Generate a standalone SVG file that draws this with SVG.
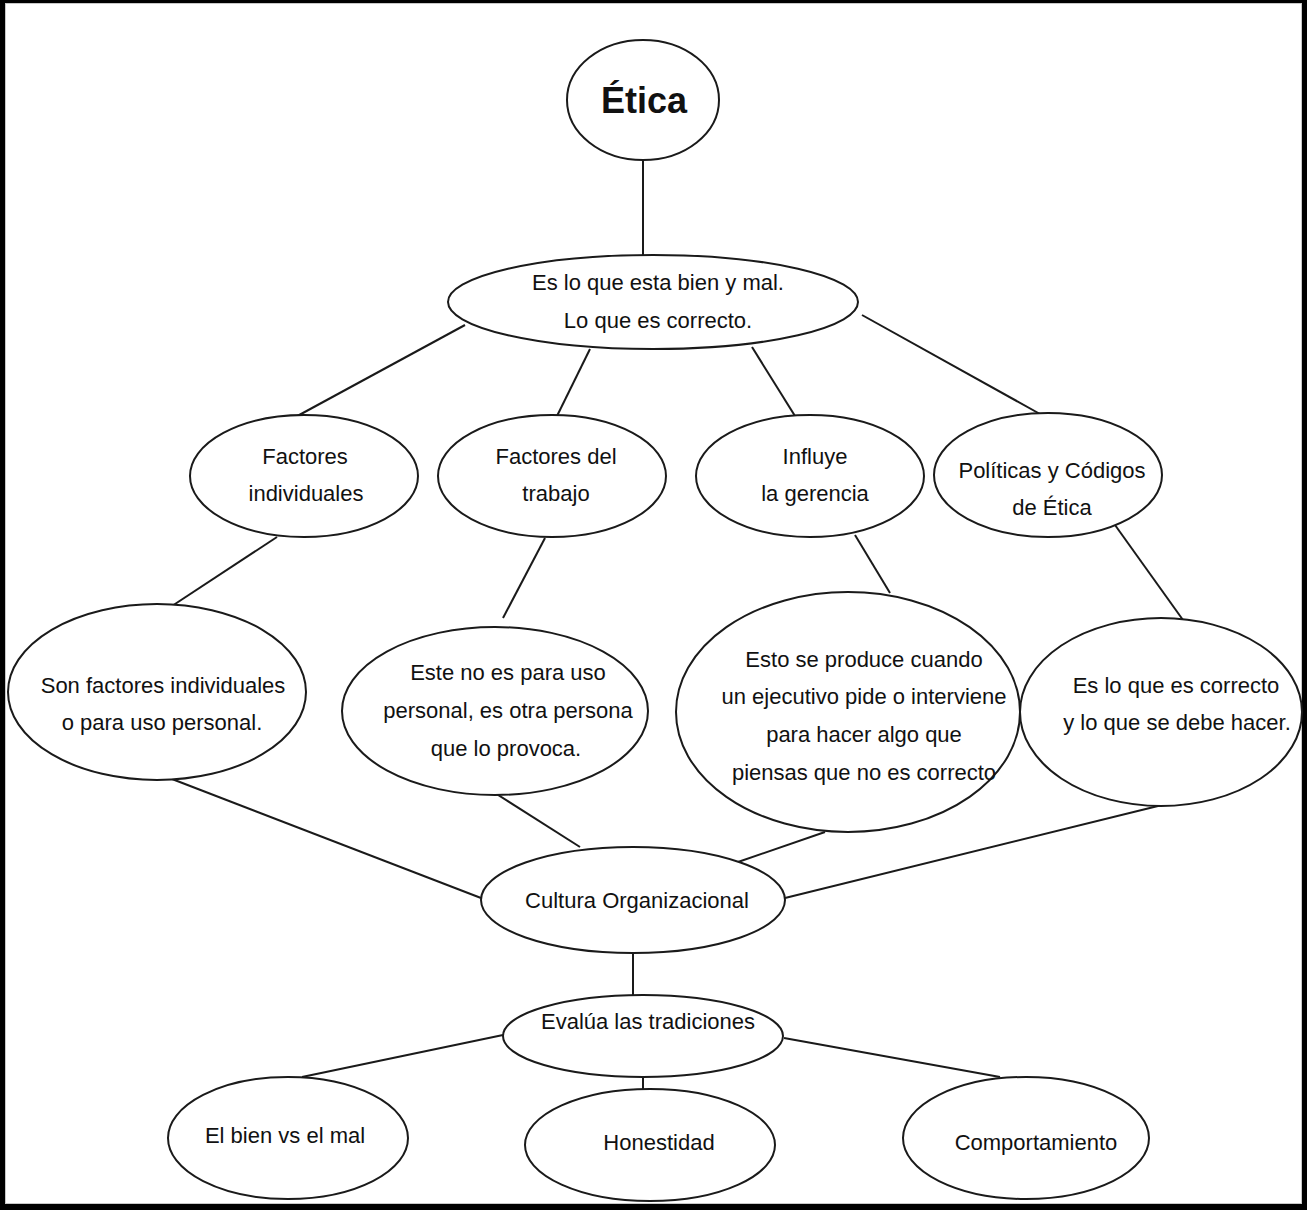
<svg xmlns="http://www.w3.org/2000/svg" width="1307" height="1210" viewBox="0 0 1307 1210">
<style>
.n ellipse{fill:#fff;stroke:#1a1a1a;stroke-width:2}
.n text{font-family:"Liberation Sans",Arial,sans-serif;font-size:22px;fill:#111;text-anchor:middle}
#edges line{stroke:#1a1a1a;stroke-width:2}
</style>
<rect x="0" y="0" width="1307" height="1210" fill="#000"/>
<rect x="5" y="3" width="1297" height="1201" fill="#fff"/>
<rect x="5.5" y="3.5" width="1296" height="1200" fill="none" stroke="#c8c8c8" stroke-width="1"/>
<g id="edges">
<line x1="643" y1="160" x2="643" y2="256"/>
<line x1="465" y1="325" x2="290" y2="420"/>
<line x1="590" y1="349" x2="557" y2="416"/>
<line x1="752" y1="347" x2="795" y2="416"/>
<line x1="862" y1="315" x2="1040" y2="414"/>
<line x1="277" y1="537" x2="172" y2="606"/>
<line x1="545" y1="538" x2="503" y2="618"/>
<line x1="855" y1="535" x2="890" y2="593"/>
<line x1="1115" y1="525" x2="1183" y2="620"/>
<line x1="172" y1="779" x2="481" y2="898"/>
<line x1="495" y1="793" x2="580" y2="847"/>
<line x1="825" y1="832" x2="738" y2="862"/>
<line x1="1162" y1="805" x2="785" y2="898"/>
<line x1="633" y1="953" x2="633" y2="996"/>
<line x1="503" y1="1035" x2="302" y2="1077"/>
<line x1="643" y1="1077" x2="643" y2="1090"/>
<line x1="784" y1="1038" x2="1000" y2="1077"/>
</g>
<g id="n-etica" class="n"><ellipse cx="643" cy="100" rx="76" ry="60"/><text x="644" y="113" style="font-size:36px;font-weight:bold">Ética</text></g>
<g id="n-bienmal" class="n"><ellipse cx="653" cy="302" rx="205" ry="47"/><text x="658" y="290">Es lo que esta bien y mal.</text><text x="658" y="328">Lo que es correcto.</text></g>
<g id="n-factind" class="n"><ellipse cx="304" cy="476" rx="114" ry="61"/><text x="305" y="464">Factores</text><text x="306" y="501">individuales</text></g>
<g id="n-facttrab" class="n"><ellipse cx="552" cy="476" rx="114" ry="61"/><text x="556" y="464">Factores del</text><text x="556" y="501">trabajo</text></g>
<g id="n-influye" class="n"><ellipse cx="810" cy="476" rx="114" ry="61"/><text x="815" y="464">Influye</text><text x="815" y="501">la gerencia</text></g>
<g id="n-politicas" class="n"><ellipse cx="1048" cy="475" rx="114" ry="62"/><text x="1052" y="478">Políticas y Códigos</text><text x="1052" y="515">de Ética</text></g>
<g id="n-sonfact" class="n"><ellipse cx="157" cy="692" rx="149" ry="88"/><text x="163" y="693">Son factores individuales</text><text x="162" y="730">o para uso personal.</text></g>
<g id="n-este" class="n"><ellipse cx="495" cy="711" rx="153" ry="84"/><text x="508" y="680">Este no es para uso</text><text x="508" y="718">personal, es otra persona</text><text x="506" y="756">que lo provoca.</text></g>
<g id="n-esto" class="n"><ellipse cx="848" cy="712" rx="172" ry="120"/><text x="864" y="667">Esto se produce cuando</text><text x="864" y="704">un ejecutivo pide o interviene</text><text x="864" y="742">para hacer algo que</text><text x="864" y="780">piensas que no es correcto</text></g>
<g id="n-correcto" class="n"><ellipse cx="1161" cy="712" rx="141" ry="94"/><text x="1176" y="693">Es lo que es correcto</text><text x="1177" y="730">y lo que se debe hacer.</text></g>
<g id="n-cultura" class="n"><ellipse cx="633" cy="900" rx="152" ry="53"/><text x="637" y="908">Cultura Organizacional</text></g>
<g id="n-evalua" class="n"><ellipse cx="643" cy="1036" rx="140" ry="41"/><text x="648" y="1029">Evalúa las tradiciones</text></g>
<g id="n-bien" class="n"><ellipse cx="288" cy="1138" rx="120" ry="61"/><text x="285" y="1143">El bien vs el mal</text></g>
<g id="n-honest" class="n"><ellipse cx="650" cy="1145" rx="125" ry="56"/><text x="659" y="1150">Honestidad</text></g>
<g id="n-comport" class="n"><ellipse cx="1026" cy="1138" rx="123" ry="61"/><text x="1036" y="1150">Comportamiento</text></g>
</svg>
